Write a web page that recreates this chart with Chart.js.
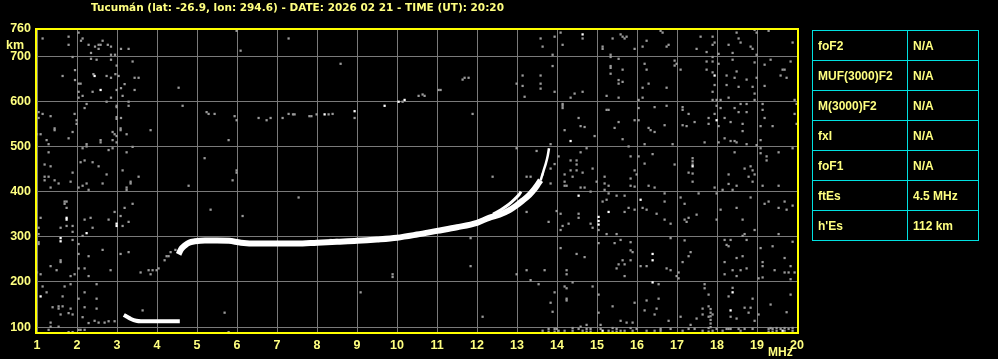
<!DOCTYPE html>
<html>
<head>
<meta charset="utf-8">
<script src="https://cdn.jsdelivr.net/npm/chart.js@4.4.1/dist/chart.umd.min.js"></script>
<style>
html, body { margin: 0; padding: 0; background: #000; }
#wrap { position: relative; width: 998px; height: 359px; overflow: hidden; background: #000; }
#wrap canvas { position: absolute; left: 0; top: 0; }
.lbl { position: absolute; color: #ffff80; font: bold 12px 'Liberation Sans', Arial, sans-serif; line-height: 12px; white-space: nowrap; }
#title { left: 91px; top: 0; font: bold 10.5px 'DejaVu Sans', sans-serif; line-height: 14px; }
#km { left: 6px; top: 39px; font-size: 12.5px; }
#mhz { left: 768px; top: 346px; }
#params { position: absolute; left: 812px; top: 30px; border-collapse: collapse; table-layout: fixed; width: 166px; }
#params td { border: 1px solid #00e0e0; height: 29px; padding: 0 0 0 5px; color: #ffff80;
  font: bold 12px 'Liberation Sans', Arial, sans-serif; white-space: nowrap; }
</style>
</head>
<body>
<div id="wrap">
  <canvas id="iono" width="998" height="359"></canvas>
  <div class="lbl" id="title">Tucumán (lat: -26.9, lon: 294.6) - DATE: 2026 02 21 - TIME (UT): 20:20</div>
  <div class="lbl" id="km">km</div>
  <div class="lbl" id="mhz">MHz</div>
  <table id="params"><colgroup><col style="width:95px"><col style="width:71px"></colgroup><tbody id="paramBody"></tbody></table>
</div>
<script>
// axis ticks
const heightTicks = [100, 200, 300, 400, 500, 600, 700, 760];

// scaled parameters (table on the right)
const paramNames = ['foF2', 'MUF(3000)F2', 'M(3000)F2', 'fxI', 'foF1', 'ftEs', "h'Es"];
const paramValues = ['N/A', 'N/A', 'N/A', 'N/A', 'N/A', '4.5 MHz', '112 km'];

// traces [MHz, km]
const esTrace = [[3.17, 127], [3.25, 123], [3.35, 118], [3.48, 114], [3.6, 113], [4.0, 113], [4.57, 113]];
const fTrace = [[4.54, 261], [4.6, 272], [4.7, 281], [4.8, 287], [4.95, 290], [5.2, 292], [5.5, 292], [5.8, 291],
  [6.1, 287], [6.5, 285], [7.0, 285], [7.5, 285], [8.0, 287], [8.5, 289], [9.0, 291], [9.5, 294], [10.0, 298],
  [10.5, 305], [11.0, 313], [11.5, 321], [12.0, 331], [12.3, 342], [12.56, 349], [12.81, 359], [12.98, 369],
  [13.14, 380], [13.31, 393], [13.43, 405], [13.52, 416], [13.59, 425]];
const fTip = [[13.59, 425], [13.66, 445], [13.72, 462], [13.77, 480], [13.8, 496]];
const xTrace = [[12.4, 350], [12.6, 360], [12.8, 372], [12.95, 384], [13.05, 393], [13.1, 400]];

// scattered echoes [MHz, km]
const noiseWhite = [[2.44, 656], [2.59, 625], [8.19, 571], [8.94, 578], [9.69, 590], [10.04, 599], [10.19, 603],
  [1.74, 342], [1.74, 338], [2.99, 329], [2.99, 324], [2.24, 308], [1.59, 297], [1.59, 290], [1.09, 168],
  [14.64, 748], [14.34, 512], [17.94, 657], [17.99, 558], [17.39, 456],
  [14.54, 391], [15.04, 344], [15.04, 335], [15.04, 327], [15.29, 355], [16.09, 382], [16.39, 262], [16.39, 248],
  [16.39, 199], [18.39, 177], [18.34, 137], [15.14, 92], [19.64, 92]];

const noiseGray = [
  [1.14, 739], [1.79, 743], [1.79, 725], [2.04, 752], [2.14, 739], [2.10, 734], [2.29, 725], [2.35, 707], [2.45, 721],
  [2.49, 761], [2.69, 761], [2.54, 725], [2.54, 716], [2.59, 725], [2.64, 734], [2.77, 725], [2.85, 721], [2.85, 703],
  [2.95, 703], [3.10, 716], [3.29, 716], [1.89, 698], [2.35, 694], [2.49, 692], [2.85, 692], [3.39, 688], [2.99, 679],
  [1.95, 669], [1.64, 656], [1.95, 647], [2.41, 660], [2.74, 656], [2.85, 652], [2.96, 660], [3.04, 656], [3.44, 652],
  [3.54, 652], [3.19, 638], [3.10, 629], [2.99, 625], [3.44, 625], [2.04, 639], [2.09, 639], [2.04, 621], [2.39, 621],
  [2.04, 608], [2.14, 612], [3.14, 612], [2.85, 608], [2.74, 599], [4.54, 630], [4.64, 590], [2.24, 594], [2.19, 585],
  [2.99, 590], [2.99, 587], [3.29, 599], [3.29, 590], [1.04, 576], [1.14, 572], [1.34, 567], [1.04, 563], [1.94, 572],
  [1.99, 558], [1.99, 550], [2.99, 565], [2.99, 561], [3.10, 563], [1.44, 540], [1.44, 536], [3.09, 540], [3.09, 536],
  [3.84, 536], [1.0, 527], [1.09, 527], [1.89, 532], [2.89, 532], [2.94, 527], [2.99, 523], [3.24, 527], [1.79, 518],
  [1.24, 514], [2.59, 514], [2.59, 509], [2.89, 514], [2.99, 509], [1.29, 505], [2.24, 505], [2.24, 500], [5.79, 514],
  [5.24, 576], [5.29, 572], [5.44, 572], [5.94, 567], [5.99, 558], [6.54, 563], [6.74, 558], [6.84, 563], [7.14, 563],
  [7.29, 572], [7.40, 571], [7.44, 571], [7.81, 567], [7.86, 567], [7.99, 571], [8.29, 571], [8.39, 572], [8.94, 563],
  [10.14, 599], [8.59, 683], [7.29, 739], [6.09, 712], [5.99, 756], [5.44, 761],
  [3.39, 499], [2.14, 496], [1.29, 487], [3.24, 487], [2.79, 492], [2.89, 496], [2.09, 465], [2.19, 469], [2.39, 465],
  [2.54, 456], [1.19, 460], [1.34, 456], [5.19, 474], [3.14, 447], [1.89, 442], [2.74, 438], [3.54, 433], [1.19, 433],
  [1.29, 433], [5.99, 447], [5.99, 442],
  [1.19, 425], [1.44, 425], [1.54, 418], [1.84, 422], [1.34, 409], [2.04, 409], [2.14, 413], [2.24, 418], [2.29, 404],
  [2.64, 418], [3.24, 409], [3.24, 404], [3.34, 422], [3.34, 418], [4.79, 413], [5.89, 425], [1.69, 378], [1.69, 373],
  [1.74, 378], [1.74, 364], [1.09, 342], [2.19, 338], [2.34, 342], [2.94, 355], [3.19, 364], [3.39, 373], [3.09, 346],
  [2.79, 338], [3.14, 324], [3.29, 333], [1.59, 320], [1.74, 324], [1.89, 324], [1.04, 320], [1.04, 306], [1.89, 311],
  [2.14, 302], [2.39, 320], [5.34, 360], [6.14, 346], [7.54, 387], [1.04, 288], [1.04, 284], [2.04, 284], [1.89, 293],
  [2.64, 271], [3.09, 262], [3.29, 266], [2.04, 262], [2.29, 257], [1.59, 248], [1.59, 244], [1.34, 235], [1.49, 226],
  [2.04, 230], [2.19, 230], [2.84, 226], [3.59, 221], [3.79, 226], [3.84, 217], [3.89, 226], [3.99, 226], [4.04, 230],
  [1.09, 217], [1.84, 213], [1.94, 217], [2.29, 213], [1.0, 221], [4.19, 248], [4.24, 257], [4.29, 257], [4.34, 266],
  [4.46, 271], [1.14, 190], [1.69, 190], [1.84, 195], [2.49, 195], [1.24, 177], [2.19, 177], [1.64, 168], [2.04, 163],
  [2.49, 163], [1.39, 144], [1.54, 146], [1.54, 141], [1.64, 146], [1.84, 141], [2.19, 144], [2.49, 141], [1.59, 128],
  [1.79, 131], [1.89, 128], [2.14, 122], [2.44, 114], [2.54, 110], [2.69, 110], [2.79, 113], [2.94, 113], [2.29, 109],
  [1.34, 110], [1.34, 101], [1.54, 101], [2.04, 94], [2.09, 94], [2.19, 94], [1.79, 89], [1.89, 89], [1.29, 94],
  [3.64, 137], [5.69, 132], [5.79, 89], [9.09, 177], [9.89, 217], [9.89, 211], [8.34, 293], [8.49, 293],
  [10.54, 612], [10.64, 615], [10.69, 612], [11.04, 625], [11.09, 625], [11.64, 648], [11.69, 652], [11.79, 652],
  [11.89, 572], [12.39, 433], [12.99, 639], [13.14, 657], [13.14, 634], [13.19, 610], [13.59, 657], [13.59, 639],
  [13.59, 628], [13.59, 739], [13.64, 721], [13.89, 703], [13.89, 678], [13.94, 621], [13.94, 743], [14.09, 752],
  [14.14, 761], [14.14, 725], [14.64, 739], [14.14, 594], [14.14, 585], [14.34, 608], [14.44, 617], [14.64, 621],
  [14.54, 563], [14.19, 536], [14.59, 545], [14.69, 543], [14.94, 523], [13.84, 505], [13.49, 490], [13.94, 461],
  [14.04, 478], [13.64, 438], [13.24, 433], [13.34, 433], [12.99, 496], [13.84, 451], [14.34, 469], [14.49, 469],
  [14.49, 460], [14.59, 487], [14.74, 496], [14.34, 447], [14.49, 447], [14.64, 442], [14.19, 438], [14.39, 433],
  [14.89, 451], [15.19, 433], [15.59, 748], [15.64, 743], [15.69, 739], [15.74, 743], [15.39, 739], [15.14, 721],
  [15.14, 716], [15.34, 698], [15.34, 703], [15.54, 694], [15.34, 678], [15.34, 674], [15.34, 661], [15.54, 647],
  [15.54, 639], [15.64, 643], [15.64, 670], [15.94, 716], [16.14, 721], [16.24, 734], [16.59, 761], [16.59, 756],
  [16.64, 752], [16.74, 721], [16.79, 725], [15.24, 612], [15.54, 608], [16.04, 603], [16.14, 608], [16.14, 630],
  [16.29, 639], [16.74, 630], [16.19, 683], [16.24, 670], [16.94, 690], [16.94, 679], [16.99, 683], [17.09, 670],
  [14.14, 590], [15.24, 581], [15.29, 581], [15.94, 558], [16.04, 558], [16.04, 585], [16.44, 587], [16.74, 590],
  [15.54, 554], [15.44, 541], [15.64, 516], [15.79, 500], [16.19, 505], [16.29, 541], [16.34, 536], [16.44, 532],
  [16.69, 547], [16.89, 505], [15.84, 478], [16.04, 478], [16.19, 462], [16.39, 483], [15.94, 447], [15.99, 438],
  [15.84, 429], [16.94, 460], [17.14, 587], [17.14, 581], [17.14, 547], [17.24, 545], [17.29, 572], [17.44, 554],
  [17.59, 743], [17.49, 716], [17.74, 709], [17.89, 743], [17.89, 725], [17.94, 730], [18.04, 705], [17.89, 698],
  [17.74, 688], [17.89, 688], [18.04, 683], [17.74, 670], [17.89, 664], [17.94, 636], [17.89, 621], [17.89, 603],
  [17.99, 603], [18.09, 603], [18.29, 608], [17.99, 590], [18.09, 585], [17.79, 563], [17.79, 550], [17.94, 572],
  [18.04, 545], [18.19, 563], [18.34, 554], [18.44, 585], [18.54, 576], [18.59, 594], [18.74, 594], [18.74, 576],
  [18.64, 550], [18.64, 534], [18.19, 518], [18.34, 512], [18.44, 512], [18.49, 509], [18.04, 509], [17.69, 509],
  [18.74, 505], [18.99, 503], [19.09, 514], [19.09, 496], [18.44, 487], [19.09, 485], [19.24, 478], [19.24, 469],
  [19.54, 487], [19.89, 496], [18.69, 451], [18.84, 456], [18.89, 447], [18.94, 438], [18.79, 433], [17.39, 474],
  [17.39, 467], [17.39, 460], [17.29, 442], [17.39, 440], [18.29, 438], [19.14, 581], [19.19, 563], [19.39, 545],
  [19.09, 545], [19.14, 594], [19.94, 603], [19.94, 572], [19.99, 594], [19.99, 550], [18.94, 603], [18.94, 617],
  [18.89, 632], [18.74, 648], [18.54, 632], [18.49, 666], [18.44, 652], [18.24, 657], [18.24, 636], [19.19, 681],
  [19.34, 692], [19.19, 634], [19.64, 670], [19.69, 670], [19.74, 652], [19.59, 657], [19.84, 688], [18.99, 652],
  [18.94, 686], [18.99, 703], [18.84, 721], [18.59, 730], [18.54, 739], [18.49, 752], [18.29, 725], [18.39, 707],
  [18.39, 692], [18.74, 761], [18.94, 758], [19.29, 756], [19.89, 730], [18.99, 752], [18.89, 716],
  [13.84, 418], [14.19, 422], [14.19, 413], [14.24, 413], [14.59, 409], [14.69, 409], [14.84, 400], [14.99, 422],
  [15.19, 418], [15.19, 404], [15.29, 413], [15.29, 396], [15.14, 378], [15.24, 382], [15.49, 391], [15.69, 391],
  [15.84, 413], [15.94, 411], [16.14, 364], [16.24, 360], [16.29, 413], [16.44, 409], [16.69, 396], [16.69, 378],
  [16.49, 351], [16.69, 338], [16.84, 329], [17.09, 387], [17.19, 373], [17.54, 396], [17.39, 422], [17.94, 409],
  [17.99, 396], [18.14, 404], [18.29, 417], [18.39, 404], [18.49, 413], [18.84, 387], [18.89, 422], [19.14, 413],
  [19.54, 413], [19.29, 378], [19.19, 373], [19.54, 364], [19.69, 378], [19.74, 360], [19.89, 369], [18.49, 364],
  [18.09, 360], [17.49, 349], [17.29, 342], [17.19, 338], [17.24, 333], [17.99, 338], [18.64, 338], [18.69, 306],
  [18.64, 302], [18.94, 315], [19.54, 306], [13.99, 357], [14.09, 351], [14.29, 329], [14.14, 324], [14.09, 315],
  [14.54, 351], [14.54, 342], [14.84, 329], [14.89, 320], [15.04, 315], [15.24, 306], [15.49, 306], [15.69, 355],
  [15.79, 364], [15.94, 360], [13.79, 333], [13.24, 355], [15.04, 286], [15.44, 286], [15.59, 293], [15.84, 288],
  [15.84, 270], [15.89, 266], [14.09, 275], [14.49, 262], [14.69, 255], [15.64, 248], [15.84, 248], [15.69, 239],
  [15.54, 239], [15.49, 230], [15.69, 213], [16.09, 235], [16.24, 235], [16.74, 230], [16.84, 297], [17.19, 292],
  [16.84, 226], [17.04, 221], [17.14, 244], [17.29, 257], [17.34, 266], [16.99, 213], [17.04, 208], [16.54, 195],
  [18.19, 217], [18.19, 293], [18.24, 282], [18.29, 279], [18.34, 293], [18.19, 244], [18.49, 253], [18.64, 257],
  [18.74, 293], [18.39, 226], [18.59, 226], [18.74, 230], [18.49, 213], [19.09, 275], [19.39, 279], [19.14, 244],
  [19.14, 235], [19.44, 226], [19.69, 253], [19.84, 235], [19.69, 221], [19.79, 221], [19.84, 206], [19.14, 210],
  [19.04, 208], [19.89, 289], [19.94, 221], [18.39, 187], [18.29, 168], [18.89, 163], [19.84, 172], [19.34, 150],
  [19.74, 133], [18.69, 143], [18.84, 143], [18.34, 123], [18.49, 119], [18.79, 132], [19.04, 128], [18.94, 114],
  [18.69, 96], [18.89, 96], [18.29, 96], [17.84, 140], [17.84, 132], [17.84, 124], [17.84, 116], [17.84, 108],
  [17.84, 100], [17.79, 146], [17.79, 123], [17.89, 128], [17.69, 195], [17.69, 186], [17.79, 172], [17.64, 141],
  [17.64, 128], [17.34, 105], [17.49, 119], [17.09, 123], [16.79, 114], [16.49, 141], [16.44, 128], [16.19, 137],
  [16.24, 159], [16.54, 163], [15.94, 154], [15.89, 110], [15.74, 110], [15.59, 114], [15.39, 146], [15.04, 172],
  [14.89, 190], [15.04, 132], [15.09, 105], [14.74, 105], [14.59, 101], [14.19, 190], [14.24, 186], [14.24, 163],
  [14.24, 159], [13.94, 177], [13.84, 154], [13.89, 134], [14.39, 199], [13.54, 195], [13.34, 204], [12.99, 217],
  [13.24, 226], [13.69, 226], [14.24, 226], [14.24, 217], [11.84, 235], [11.84, 297], [12.14, 123], [13.99, 96],
  [13.64, 92], [13.79, 96], [13.79, 90], [13.94, 96], [13.94, 90], [14.04, 92], [14.19, 92], [14.39, 98], [14.39, 92],
  [14.54, 96], [14.64, 92], [14.74, 96], [14.74, 90], [14.84, 96], [14.84, 90], [15.09, 96], [15.29, 92], [15.39, 98],
  [15.39, 90], [15.49, 96], [15.49, 90], [15.59, 92], [15.69, 92], [15.84, 98], [15.89, 92], [15.99, 96], [16.24, 92],
  [16.44, 92], [16.59, 96], [16.59, 92], [16.84, 96], [17.14, 92], [17.29, 96], [17.44, 96], [17.64, 92], [17.79, 98],
  [17.79, 90], [17.89, 92], [17.99, 96], [18.14, 92], [18.24, 96], [18.34, 96], [18.54, 96], [18.59, 92], [19.29, 96],
  [19.29, 90], [19.34, 98], [19.39, 96], [19.39, 90], [19.49, 98], [19.49, 92], [19.59, 96], [19.69, 98], [19.69, 92],
  [19.79, 96], [19.89, 98], [19.89, 92]
];

const yellow = '#ffff80';
const frameYellow = '#ffff00';
const gridGray = '#7a7a7a';
const dotGray = '#9a9a9a';
const tickFont = { family: "'Liberation Sans', Arial, sans-serif", size: 12.5, weight: 'bold' };

const toXY = arr => arr.map(p => ({ x: p[0], y: p[1] }));

// parameter table
const body = document.getElementById('paramBody');
paramNames.forEach((name, i) => {
  const tr = document.createElement('tr');
  const a = document.createElement('td');
  const b = document.createElement('td');
  a.textContent = name;
  b.textContent = paramValues[i];
  tr.appendChild(a);
  tr.appendChild(b);
  body.appendChild(tr);
});

// yellow frame round the plot
const framePlugin = {
  id: 'frame',
  afterDraw(chart) {
    const { ctx, chartArea: a } = chart;
    ctx.save();
    ctx.strokeStyle = frameYellow;
    ctx.lineWidth = 2;
    ctx.strokeRect(a.left - 1, a.top, a.right - a.left + 2, a.bottom - a.top);
    ctx.restore();
  }
};

const lineSet = (data, width) => ({
  data: toXY(data),
  showLine: true,
  borderColor: '#ffffff',
  borderWidth: width,
  pointRadius: 0,
  cubicInterpolationMode: 'monotone',
  borderCapStyle: 'butt'
});

const dotSet = (data, color) => ({
  data: toXY(data),
  showLine: false,
  pointStyle: 'rect',
  pointRadius: 1.6,
  pointBorderWidth: 0,
  pointBackgroundColor: color,
  borderColor: color
});

new Chart(document.getElementById('iono'), {
  type: 'scatter',
  data: {
    datasets: [
      lineSet(fTrace, 6),
      lineSet(esTrace, 4),
      lineSet(fTip, 2.5),
      lineSet(xTrace, 3),
      dotSet(noiseWhite, '#ffffff'),
      dotSet(noiseGray, dotGray)
    ]
  },
  options: {
    responsive: false,
    animation: false,
    layout: { padding: { top: 29, right: 201, left: 0, bottom: 0 } },
    plugins: { legend: { display: false }, tooltip: { enabled: false } },
    scales: {
      x: {
        type: 'linear',
        min: 1,
        max: 20,
        afterFit: s => { s.height = 26; },
        grid: { color: gridGray, drawTicks: false },
        border: { display: false },
        ticks: { stepSize: 1, color: yellow, font: tickFont, padding: 5, maxRotation: 0, autoSkip: false }
      },
      y: {
        type: 'linear',
        min: 87,
        max: 760,
        afterBuildTicks: s => { s.ticks = heightTicks.map(v => ({ value: v })); },
        afterFit: s => { s.width = 37; },
        grid: {
          color: c => (c.tick && c.tick.value === 760 ? 'rgba(0,0,0,0)' : gridGray),
          drawTicks: false
        },
        border: { display: false },
        ticks: { color: yellow, font: tickFont, padding: 6, autoSkip: false }
      }
    }
  },
  plugins: [framePlugin]
});
</script>
</body>
</html>
